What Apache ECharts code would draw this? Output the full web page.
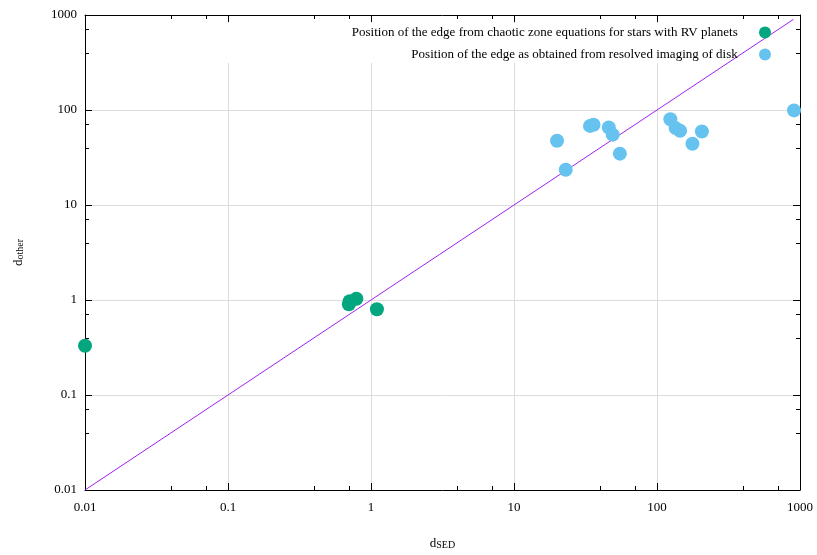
<!DOCTYPE html>
<html>
<head>
<meta charset="utf-8">
<script src="https://cdn.jsdelivr.net/npm/echarts@6/dist/echarts.min.js"></script>
<style>
  html, body { margin: 0; padding: 0; background: #fff; }
  #chart { width: 817px; height: 555px; }
</style>
</head>
<body>
<div id="chart"></div>
<script>
// chaotic zone edge, stars with RV planets
const rvX = [0.01, 0.70, 0.71, 0.79, 1.1]
const rvY = [0.33, 0.90, 0.97, 1.03, 0.80]
// resolved imaging of disk
const diskX = [20, 23, 34, 36, 46, 49, 55, 124, 135, 145, 177, 206, 908]
const diskY = [47.5, 23.5, 68, 70, 65.5, 55, 34.7, 80, 64.5, 60.5, 44.2, 59.4, 99]
// y = x reference line
const lineX = [0.01, 900]

const rvName = 'Position of the edge from chaotic zone equations for stars with RV planets'
const diskName = 'Position of the edge as obtained from resolved imaging of disk'

const font = 'Liberation Serif'
const textStyle = { fontFamily: font, fontSize: 13, color: '#000' }

const zip = (xs, ys) => xs.map((x, i) => [x, ys[i]])

function logAxis(pos, show) {
  return {
    type: 'log',
    logBase: 10,
    position: pos,
    min: 0.01,
    max: 1000,
    axisLine: { show: true, onZero: false, lineStyle: { color: '#000', width: 1 } },
    axisTick: { show: true, inside: true, length: 7, lineStyle: { color: '#000' } },
    minorTick: { show: true, splitNumber: 3, length: 4, lineStyle: { color: '#000' } },
    axisLabel: { show: show, ...textStyle, formatter: v => String(+v.toPrecision(6)) },
    splitLine: { show: show, lineStyle: { color: '#dcdcdc', width: 1 } },
    minorSplitLine: { show: false }
  }
}

const rich = {
  d: { fontFamily: font, fontSize: 13, color: '#000', verticalAlign: 'top', lineHeight: 13 },
  s: { fontFamily: font, fontSize: 10, color: '#000', verticalAlign: 'bottom', lineHeight: 10, padding: [7, 0, 0, 0] }
}

const xBottom = Object.assign(logAxis('bottom', true), {
  name: '{d|d}{s|SED}',
  nameLocation: 'middle',
  nameGap: 47,
  nameTextStyle: { rich: rich }
})
xBottom.axisLabel.margin = 11

const yLeft = Object.assign(logAxis('left', true), {
  name: '{d|d}{s|other}',
  nameLocation: 'middle',
  nameRotate: 90,
  nameGap: 60,
  nameTextStyle: { rich: rich }
})
yLeft.axisLabel.margin = 8

const chart = echarts.init(document.getElementById('chart'))
chart.setOption({
  animation: false,
  grid: { left: 84, right: 17, top: 15, bottom: 64 },
  xAxis: [xBottom, logAxis('top', false)],
  yAxis: [yLeft, logAxis('right', false)],
  legend: {
    orient: 'vertical',
    align: 'right',
    right: 41,
    top: 21,
    itemWidth: 12,
    itemHeight: 12,
    itemGap: 9,
    data: [rvName, diskName],
    formatter: name => name + '     ',
    textStyle: textStyle
  },
  graphic: [{
    type: 'rect',
    z: 1,
    silent: true,
    shape: { x: 91, y: 23, width: 701, height: 40 },
    style: { fill: '#fff' }
  }],
  series: [
    {
      type: 'line',
      xAxisIndex: 0,
      yAxisIndex: 0,
      data: zip(lineX, lineX),
      showSymbol: false,
      lineStyle: { color: '#a020f0', width: 1 },
      z: 2
    },
    {
      name: rvName,
      type: 'scatter',
      data: zip(rvX, rvY),
      symbolSize: 14,
      itemStyle: { color: '#03a67f', opacity: 1 },
      z: 3
    },
    {
      name: diskName,
      type: 'scatter',
      data: zip(diskX, diskY),
      symbolSize: 14,
      itemStyle: { color: '#66c2ef', opacity: 1 },
      z: 3
    }
  ]
})
</script>
</body>
</html>
